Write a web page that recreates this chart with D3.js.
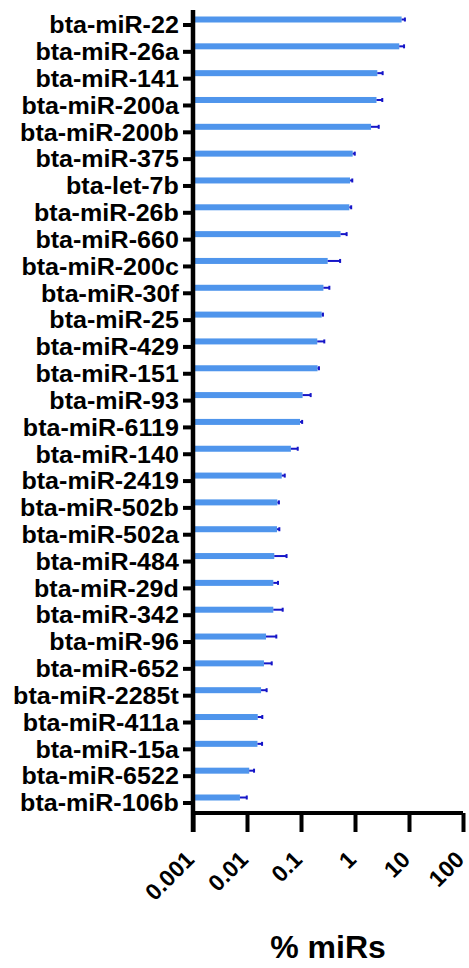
<!DOCTYPE html>
<html>
<head>
<meta charset="utf-8">
<script src="https://cdn.jsdelivr.net/npm/d3@7"></script>
<style>
  html, body { margin: 0; padding: 0; background: #fff; }
  svg { display: block; }
  text { font-family: "Liberation Sans", Arial, Helvetica, sans-serif; font-weight: bold; fill: #000; }
</style>
</head>
<body>
<svg id="chart" width="469" height="968"></svg>
<script>
const categories = ["bta-miR-22","bta-miR-26a","bta-miR-141","bta-miR-200a","bta-miR-200b","bta-miR-375","bta-let-7b","bta-miR-26b","bta-miR-660","bta-miR-200c","bta-miR-30f","bta-miR-25","bta-miR-429","bta-miR-151","bta-miR-93","bta-miR-6119","bta-miR-140","bta-miR-2419","bta-miR-502b","bta-miR-502a","bta-miR-484","bta-miR-29d","bta-miR-342","bta-miR-96","bta-miR-652","bta-miR-2285t","bta-miR-411a","bta-miR-15a","bta-miR-6522","bta-miR-106b"];
const means = [7.3,6.6,2.59,2.5,1.98,0.906,0.81,0.785,0.54,0.312,0.26,0.242,0.2,0.203,0.107,0.096,0.065,0.044,0.0365,0.036,0.032,0.0307,0.0307,0.0225,0.0206,0.0182,0.0158,0.0156,0.011,0.0074];
const upperErr = [8.4,8.1,3.25,3.2,2.75,0.99,0.89,0.85,0.70,0.53,0.335,0.255,0.27,0.215,0.151,0.105,0.087,0.05,0.039,0.0397,0.054,0.0375,0.0458,0.0349,0.0287,0.0231,0.0192,0.019,0.0135,0.0099];
const xTicks = [0.001,0.01,0.1,1,10,100];
const xTickLabels = ["0.001","0.01","0.1","1","10","100"];
const xTitle = "% miRs";

const svg = d3.select("#chart");
const x = d3.scaleLog().domain([0.001, 100]).range([193, 463]);
const y = d3.scalePoint().domain(categories).range([24.5, 802.5]);
const barOffset = -5;
const barH = 6;

// bars
svg.append("g").selectAll("rect").data(categories).join("rect")
  .attr("x", x(0.001))
  .attr("y", d => y(d) + barOffset - barH / 2)
  .attr("width", (d, i) => x(means[i]) - x(0.001))
  .attr("height", barH)
  .attr("fill", "#4f95ec");

// error bars
const eg = svg.append("g");
eg.selectAll("line.err").data(categories).join("line")
  .attr("class", "err")
  .attr("x1", (d, i) => x(means[i]))
  .attr("x2", (d, i) => x(upperErr[i]))
  .attr("y1", d => y(d) + barOffset)
  .attr("y2", d => y(d) + barOffset)
  .attr("stroke", "#1515c8").attr("stroke-width", 2);
eg.selectAll("line.cap").data(categories).join("line")
  .attr("class", "cap")
  .attr("x1", (d, i) => x(upperErr[i]))
  .attr("x2", (d, i) => x(upperErr[i]))
  .attr("y1", d => y(d) + barOffset - 2)
  .attr("y2", d => y(d) + barOffset + 2)
  .attr("stroke", "#1515c8").attr("stroke-width", 2);

// y axis
const yAxis = svg.append("g").attr("transform", `translate(${x(0.001)},0)`)
  .call(d3.axisLeft(y).tickSize(10).tickPadding(3).tickSizeOuter(0));
yAxis.select(".domain").remove();
yAxis.selectAll(".tick line").attr("stroke", "#000").attr("stroke-width", 4);
yAxis.selectAll(".tick text").attr("font-size", 23).attr("dy", "0.36em")
  .attr("transform", "scale(1.09,1)")
  .style("font-family", "'Liberation Sans', Arial, sans-serif").style("font-weight", "bold");
yAxis.append("line").attr("x1", 0).attr("x2", 0).attr("y1", 10).attr("y2", 832)
  .attr("stroke", "#000").attr("stroke-width", 4.5);

// x axis
const xAxisY = 813;
const xAxis = svg.append("g").attr("transform", `translate(0,${xAxisY})`)
  .call(d3.axisBottom(x).tickValues(xTicks).tickSize(19).tickSizeOuter(0)
    .tickFormat((d, i) => xTickLabels[i]));
xAxis.select(".domain").attr("stroke", "#000").attr("stroke-width", 4)
  .attr("d", `M${x(0.001)},0H${x(100)}`);
xAxis.selectAll(".tick line").attr("stroke", "#000").attr("stroke-width", 4);
xAxis.selectAll(".tick text")
  .attr("font-size", 23).attr("y", 0).attr("dy", 0)
  .attr("text-anchor", "end")
  .attr("transform", "translate(2,48) rotate(-45)")
  .style("font-family", "'Liberation Sans', Arial, sans-serif").style("font-weight", "bold");

// x title
svg.append("text").attr("x", (x(0.001) + x(100)) / 2).attr("y", 958)
  .attr("text-anchor", "middle").attr("font-size", 32).text(xTitle);
</script>
</body>
</html>
